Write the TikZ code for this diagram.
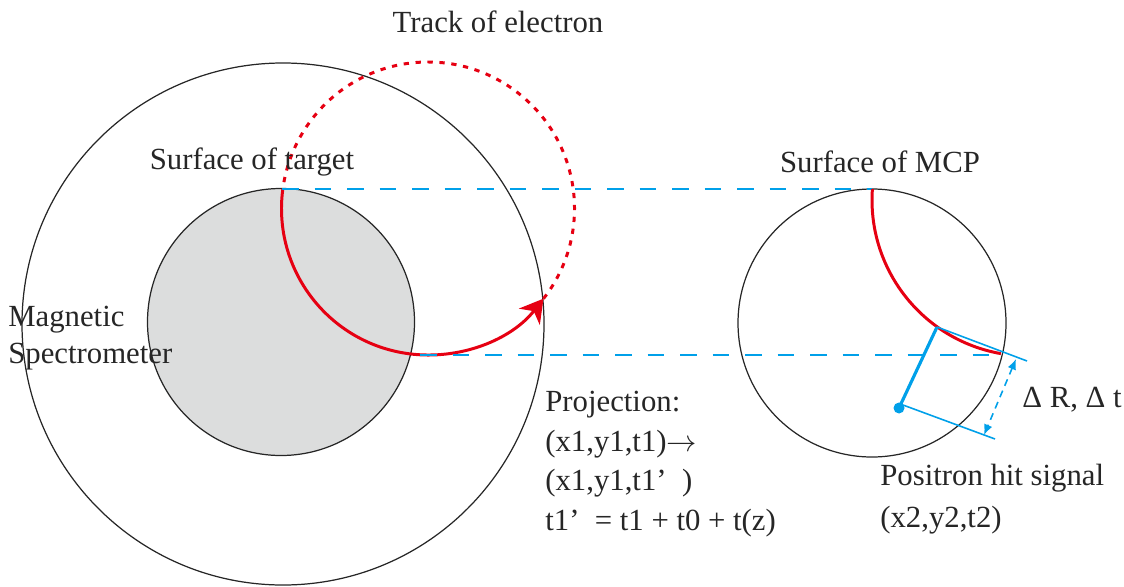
\documentclass[tikz,border=0pt]{standalone}
\usepackage{fontspec}
\setmainfont{Liberation Serif}
\newfontfamily\lserif{Liberation Serif}
\usetikzlibrary{arrows.meta}
\definecolor{eRed}{RGB}{230,0,18}
\definecolor{sBlue}{RGB}{0,160,233}
\definecolor{tGray}{RGB}{220,221,221}
\begin{document}
\begin{tikzpicture}[x=0.02cm,y=0.02cm,
  ring/.style={draw=black!85,line width=0.7pt},
  track/.style={draw=eRed,line width=1.7pt},
  proj/.style={draw=sBlue,line width=0.9pt,dash pattern=on 9.5pt off 9pt},
  thinblue/.style={draw=sBlue,line width=0.9pt},
  lbl/.style={font=\lserif\fontsize{17.5}{21.5}\selectfont,text=black!85,inner sep=0pt}]
\useasboundingbox (0,0) rectangle (1124,586);
% circles
\draw[ring] (283,262) circle (261);
\draw[ring,fill=tGray] (281,264) circle (133.5);
\draw[ring] (872,263) circle (134);
% electron track
\coordinate (tc) at (428,377.5);
\draw[track,dash pattern=on 3pt off 3.8pt] ([shift={(322:146.5)}]tc) arc (322:532.4:146.5);
\draw[track,-{Stealth[length=13pt,width=15pt,inset=4pt]}] ([shift={(172.4:146.5)}]tc) arc (172.4:322:146.5);
% projection lines
\coordinate (u1) at (282,397);
\coordinate (u2) at (872,397);
\coordinate (l1) at (420,231);
\coordinate (l2) at (1002,231);
\draw[proj] (u1) -- (u2);
\draw[proj] (l1) -- (l2);
% MCP side
\coordinate (mc) at (1028,386);
\coordinate (B) at (937,259);
\coordinate (D) at (899,178);
\coordinate (Be) at (1027,225);
\coordinate (Ds) at (903,181);
\coordinate (De) at (995,147);
\coordinate (a1) at (1016,227);
\coordinate (a2) at (984,151);
\draw[track] ([shift={(176:156)}]mc) arc (176:260:156);
\draw[thinblue] (B) -- (Be);
\draw[thinblue] (Ds) -- (De);
\draw[draw=sBlue,line width=1.8pt] (B) -- (D);
\fill[sBlue] (D) circle (5.5);
\draw[thinblue,dash pattern=on 4pt off 3pt,{Latex[length=6pt,width=5pt]}-{Latex[length=6pt,width=5pt]}] (a1) -- (a2);
% labels
\node[lbl] (title) at (498,564) {Track of electron};
\node[lbl] (tgt) at (252,424) {Surface of target};
\node[lbl] (mcp) at (880,424) {Surface of MCP};
\node[lbl,anchor=west,align=left,font=\lserif\fontsize{17.5}{21}\selectfont] (mag) at (8,248) {Magnetic\\Spectrometer};
\node[lbl,anchor=west,align=left,font=\lserif\fontsize{17.5}{22.5}\selectfont] (proj) at (545,122) {Projection:\\(x1,y1,t1)$\rightarrow$\\(x1,y1,t1’\ \ )\\t1’\ \ = t1 + t0 + t(z)};
\node[lbl] (dr) at (1072,186) {Δ R, Δ t};
\node[lbl,anchor=west,align=left,font=\lserif\fontsize{17.5}{24}\selectfont] (pos) at (880,87) {Positron hit signal\\(x2,y2,t2)};
\end{tikzpicture}
\end{document}
